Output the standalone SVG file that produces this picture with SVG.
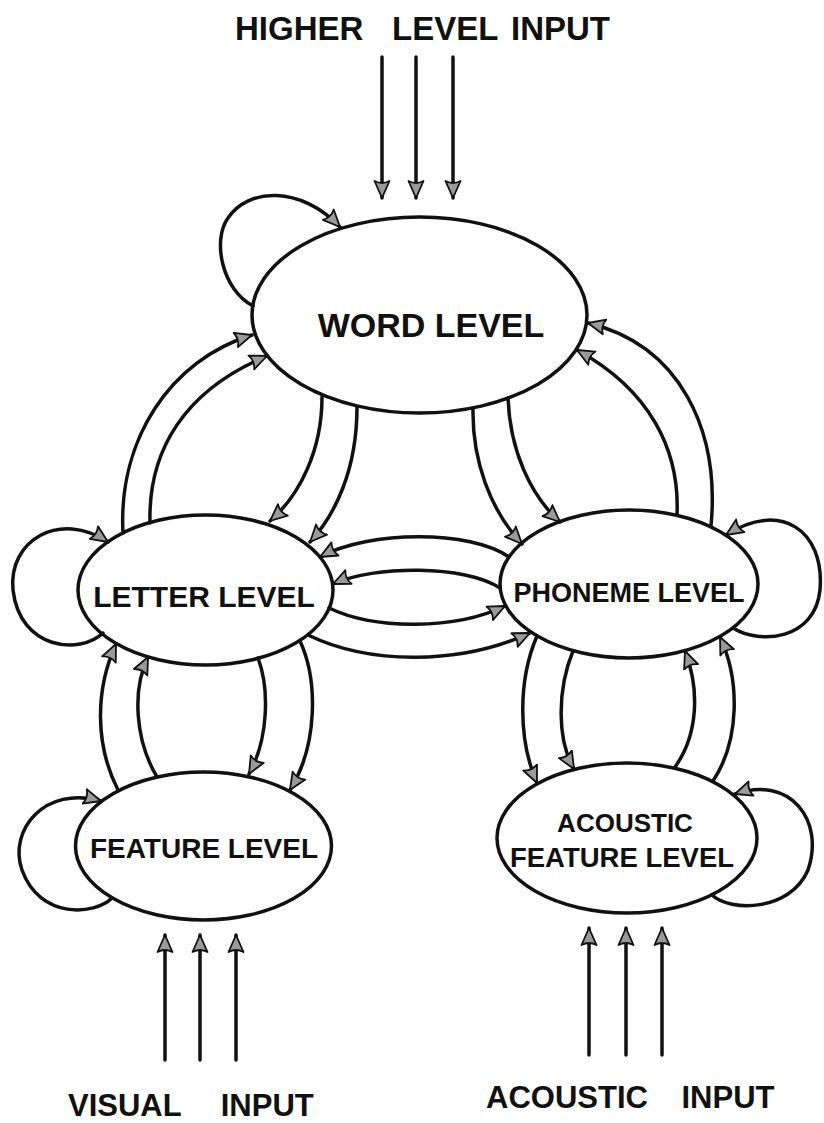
<svg xmlns="http://www.w3.org/2000/svg" width="824" height="1123" viewBox="0 0 824 1123">
<defs>
<style>
.node{fill:none;stroke:#111;stroke-width:3.5}
.con{fill:none;stroke:#111;stroke-width:3.5;stroke-linecap:round}
.lbl{font-family:"Liberation Sans",Arial,sans-serif;font-weight:bold;fill:#111;text-anchor:middle}
.cap{font-family:"Liberation Sans",Arial,sans-serif;font-weight:bold;fill:#111}
</style>
<marker id="ah" viewBox="0 0 20 18" refX="18" refY="9" markerWidth="20" markerHeight="18" markerUnits="userSpaceOnUse" orient="auto">
<path d="M18,9 L1,1.5 Q5,9 1,16.5 Z" fill="#9a9a9a" stroke="#111" stroke-width="1.8" stroke-linejoin="round"/>
</marker>
</defs>
<rect width="824" height="1123" fill="#fff"/>

<g id="connectors">
<!-- inputs -->
<path class="con" d="M382 57 V198" marker-end="url(#ah)"/>
<path class="con" d="M416 57 V198" marker-end="url(#ah)"/>
<path class="con" d="M453 57 V198" marker-end="url(#ah)"/>
<path class="con" d="M165 1060 V935" marker-end="url(#ah)"/>
<path class="con" d="M200 1060 V935" marker-end="url(#ah)"/>
<path class="con" d="M236 1060 V935" marker-end="url(#ah)"/>
<path class="con" d="M589 1055 V928" marker-end="url(#ah)"/>
<path class="con" d="M626 1055 V928" marker-end="url(#ah)"/>
<path class="con" d="M662 1055 V928" marker-end="url(#ah)"/>
<!-- self loops -->
<path class="con" d="M253 306 C222 290 212 240 228 218 C248 188 300 185 340 227" marker-end="url(#ah)"/>
<path class="con" d="M103 633 C80 655 20 650 13 590 C8 540 60 510 108 542" marker-end="url(#ah)"/>
<path class="con" d="M733 628 C760 645 815 640 820 590 C825 530 780 500 726 535" marker-end="url(#ah)"/>
<path class="con" d="M112 898 C95 915 40 920 22 870 C8 830 45 785 101 801" marker-end="url(#ah)"/>
<path class="con" d="M712 895 C730 912 790 912 808 870 C825 820 790 775 735 794" marker-end="url(#ah)"/>
<!-- letter <-> word -->
<path class="con" d="M123 533 C118 440 170 360 252 335" marker-end="url(#ah)"/>
<path class="con" d="M150 523 C148 450 185 390 267 356" marker-end="url(#ah)"/>
<path class="con" d="M322 397 C322 450 300 495 270 521" marker-end="url(#ah)"/>
<path class="con" d="M357 407 C357 470 335 515 310 542" marker-end="url(#ah)"/>
<!-- word <-> phoneme -->
<path class="con" d="M473 408 C472 460 490 510 522 544" marker-end="url(#ah)"/>
<path class="con" d="M508 398 C510 450 530 495 560 522" marker-end="url(#ah)"/>
<path class="con" d="M677 515 C680 450 650 390 577 350" marker-end="url(#ah)"/>
<path class="con" d="M711 526 C720 430 680 345 588 323" marker-end="url(#ah)"/>
<!-- letter <-> phoneme -->
<path class="con" d="M509 557 C470 530 370 530 320 557" marker-end="url(#ah)"/>
<path class="con" d="M500 588 C465 565 375 565 333 584" marker-end="url(#ah)"/>
<path class="con" d="M329 608 C375 630 455 630 505 606" marker-end="url(#ah)"/>
<path class="con" d="M308 635 C370 665 460 665 530 633" marker-end="url(#ah)"/>
<!-- letter <-> feature -->
<path class="con" d="M118 790 C95 745 95 690 116 644" marker-end="url(#ah)"/>
<path class="con" d="M157 777 C135 740 132 690 148 657" marker-end="url(#ah)"/>
<path class="con" d="M258 658 C270 690 268 740 249 774" marker-end="url(#ah)"/>
<path class="con" d="M300 641 C318 680 318 745 290 790" marker-end="url(#ah)"/>
<!-- phoneme <-> acoustic -->
<path class="con" d="M537 636 C518 680 518 740 537 783" marker-end="url(#ah)"/>
<path class="con" d="M573 651 C557 690 557 740 574 769" marker-end="url(#ah)"/>
<path class="con" d="M675 767 C698 735 700 690 685 651" marker-end="url(#ah)"/>
<path class="con" d="M713 781 C740 740 740 680 720 637" marker-end="url(#ah)"/>
</g>

<g id="word-level">
<ellipse class="node" cx="419.5" cy="315" rx="167.5" ry="98"/>
<text class="lbl" x="431" y="337" font-size="34">WORD LEVEL</text>
</g>
<g id="letter-level">
<ellipse class="node" cx="205.5" cy="590" rx="127.5" ry="75"/>
<text class="lbl" x="204" y="607" font-size="30">LETTER LEVEL</text>
</g>
<g id="phoneme-level">
<ellipse class="node" cx="629" cy="584" rx="129" ry="74"/>
<text class="lbl" x="629" y="602" font-size="27">PHONEME LEVEL</text>
</g>
<g id="feature-level">
<ellipse class="node" cx="203.5" cy="846" rx="128" ry="74"/>
<text class="lbl" x="204" y="858" font-size="28">FEATURE LEVEL</text>
</g>
<g id="acoustic-feature-level">
<ellipse class="node" cx="627" cy="838" rx="130" ry="75"/>
<text class="lbl" x="625" y="832" font-size="26">ACOUSTIC</text>
<text class="lbl" x="622" y="867" font-size="27.5">FEATURE LEVEL</text>
</g>

<g id="higher-level-input">
<text class="cap" y="40" font-size="33"><tspan x="235">HIGHER</tspan> <tspan x="392">LEVEL</tspan> <tspan x="511">INPUT</tspan></text>
</g>
<g id="visual-input">
<text class="cap" x="68" y="1116" font-size="31" word-spacing="31">VISUAL INPUT</text>
</g>
<g id="acoustic-input">
<text class="cap" x="486" y="1108" font-size="31" word-spacing="25">ACOUSTIC INPUT</text>
</g>
</svg>
